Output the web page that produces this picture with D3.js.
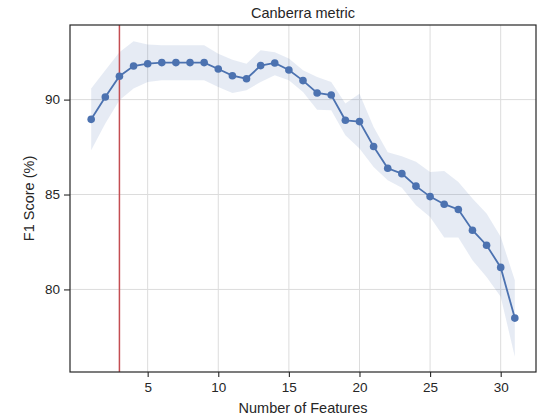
<!DOCTYPE html>
<html>
<head>
<meta charset="utf-8">
<script src="https://cdn.jsdelivr.net/npm/d3@7.9.0/dist/d3.min.js"></script>
<style>
  body { margin: 0; background: #fff; }
  svg { font-family: "Liberation Sans", Arial, sans-serif; }
</style>
</head>
<body>
<svg id="chart" width="541" height="417"></svg>
<script>
// number of features 1..31
const features = [1,2,3,4,5,6,7,8,9,10,11,12,13,14,15,16,17,18,19,20,21,22,23,24,25,26,27,28,29,30,31];
const f1Mean = [88.96,90.14,91.23,91.77,91.89,91.95,91.95,91.95,91.95,91.61,91.26,91.1,91.79,91.93,91.56,91.0,
                90.35,90.24,88.91,88.84,87.53,86.38,86.1,85.44,84.89,84.49,84.21,83.12,82.33,81.16,78.49];
const f1Upper = [90.58,91.55,92.5,93.08,92.9,92.86,92.86,92.86,92.86,92.42,92.1,91.89,92.6,92.5,92.16,91.54,
                 91.19,90.93,89.79,90.31,88.56,87.22,87.02,86.72,86.19,86.24,85.66,84.79,84.0,82.77,80.49];
const f1Lower = [87.33,88.74,89.96,90.58,90.93,91.02,91.02,91.02,91.02,90.66,90.35,90.49,90.93,91.28,91.02,90.4,
                 89.47,89.44,88.12,87.42,86.45,85.75,85.35,84.44,83.82,82.74,82.74,81.54,80.66,79.61,76.45];
const xTicks = [5,10,15,20,25,30];
const yTicks = [80,85,90];
const selected = 3;

const margin = {top: 25, right: 5, bottom: 45, left: 70};
const width = 541, height = 417;
const svg = d3.select('#chart');

const x = d3.scaleLinear().domain([-0.5, 32.5]).range([margin.left, width - margin.right]);
const y = d3.scaleLinear().domain([75.65, 93.93]).range([height - margin.bottom, margin.top]);

// grid
svg.append('g').selectAll('line').data(xTicks).join('line')
  .attr('x1', d => x(d)).attr('x2', d => x(d))
  .attr('y1', margin.top).attr('y2', height - margin.bottom)
  .attr('stroke', '#dcdcdc').attr('stroke-width', 1);
svg.append('g').selectAll('line').data(yTicks).join('line')
  .attr('y1', d => y(d)).attr('y2', d => y(d))
  .attr('x1', margin.left).attr('x2', width - margin.right)
  .attr('stroke', '#dcdcdc').attr('stroke-width', 1);

// confidence band
const band = features.map((f, i) => ({f, lo: f1Lower[i], hi: f1Upper[i]}));
svg.append('path')
  .datum(band)
  .attr('d', d3.area().x(d => x(d.f)).y0(d => y(d.lo)).y1(d => y(d.hi)))
  .attr('fill', '#4c72b0').attr('fill-opacity', 0.14);

// selected number of features
svg.append('line')
  .attr('x1', x(selected)).attr('x2', x(selected))
  .attr('y1', margin.top).attr('y2', height - margin.bottom)
  .attr('stroke', '#c44e52').attr('stroke-width', 1.5);

// mean line + markers
const pts = features.map((f, i) => ({f, v: f1Mean[i]}));
svg.append('path')
  .datum(pts)
  .attr('d', d3.line().x(d => x(d.f)).y(d => y(d.v)))
  .attr('fill', 'none').attr('stroke', '#4c72b0').attr('stroke-width', 1.8);
svg.append('g').selectAll('circle').data(pts).join('circle')
  .attr('cx', d => x(d.f)).attr('cy', d => y(d.v)).attr('r', 3.8)
  .attr('fill', '#4c72b0');

// axes
const xAxis = svg.append('g')
  .attr('transform', `translate(0,${height - margin.bottom})`)
  .call(d3.axisBottom(x).tickValues(xTicks).tickSize(5).tickPadding(5));
const yAxis = svg.append('g')
  .attr('transform', `translate(${margin.left},0)`)
  .call(d3.axisLeft(y).tickValues(yTicks).tickSize(6).tickPadding(4));
[xAxis, yAxis].forEach(a => {
  a.select('.domain').remove();
  a.selectAll('line').attr('stroke', '#262626').attr('stroke-width', 1.1);
  a.selectAll('text').attr('fill', '#262626').style('font-size', '13.5px').attr('font-family', null);
});

// frame
svg.append('rect')
  .attr('x', margin.left).attr('y', margin.top)
  .attr('width', width - margin.left - margin.right)
  .attr('height', height - margin.top - margin.bottom)
  .attr('fill', 'none').attr('stroke', '#262626').attr('stroke-width', 1.2);

// labels
svg.append('text').attr('x', (margin.left + width - margin.right) / 2).attr('y', 18)
  .attr('text-anchor', 'middle').attr('fill', '#262626').style('font-size', '14.5px')
  .text('Canberra metric');
svg.append('text').attr('x', (margin.left + width - margin.right) / 2).attr('y', 413)
  .attr('text-anchor', 'middle').attr('fill', '#262626').style('font-size', '14.5px')
  .text('Number of Features');
svg.append('text')
  .attr('transform', `translate(34,${(margin.top + height - margin.bottom) / 2}) rotate(-90)`)
  .attr('text-anchor', 'middle').attr('fill', '#262626').style('font-size', '14.5px')
  .text('F1 Score (%)');
</script>
</body>
</html>
